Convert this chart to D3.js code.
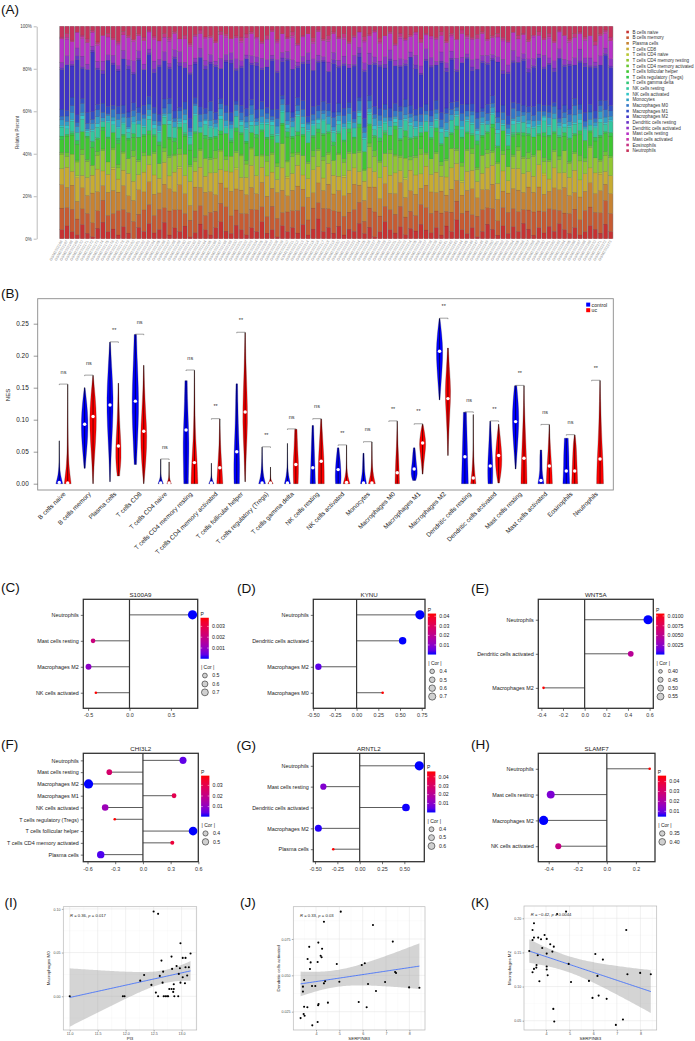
<!DOCTYPE html>
<html>
<head>
<meta charset="utf-8">
<script src="https://d3js.org/d3.v7.min.js"></script>
<style>
body{margin:0;background:#fff;}
svg{display:block;font-family:"Liberation Sans",Arial,sans-serif;}
</style>
</head>
<body>
<div id="fig"></div>
<script>
// ---------- data ----------
var cellTypes = ["B cells naive","B cells memory","Plasma cells","T cells CD8","T cells CD4 naive",
  "T cells CD4 memory resting","T cells CD4 memory activated","T cells follicular helper",
  "T cells regulatory (Tregs)","T cells gamma delta","NK cells resting","NK cells activated",
  "Monocytes","Macrophages M0","Macrophages M1","Macrophages M2","Dendritic cells resting",
  "Dendritic cells activated","Mast cells resting","Mast cells activated","Eosinophils","Neutrophils"];
var cellColors = ["#c73232","#c75b32","#c78332","#c7ac32","#b9c732","#91c732","#68c732","#3fc732",
  "#32c74d","#32c776","#32c79e","#32c7c7","#329ec7","#3276c7","#324dc7","#3f32c7","#6832c7",
  "#9132c7","#b932c7","#c732ac","#c73283","#c7325b"];

// sample names on the x axis of (A)
var sampleIds = d3.range(108).map(function(i){ return "GSM" + (2332166 + i); });

// (A) CIBERSORT fractions, percent, one array per cell type (108 samples)
var bNaive = [5,7,4,2,8,3,1,6,9,4,5,2,7,3,0,6,4,8,3,5,9,2,6,4,7,1,3,8,5,2,6,10,4,3,7,5,
  2,6,4,9,3,5,1,7,4,6,3,8,2,5,11,4,6,3,7,2,5,4,8,3,6,1,4,9,5,3,7,2,6,4,8,5,
  3,6,2,7,4,10,5,3,6,1,4,8,5,2,7,3,6,4,9,5,2,6,3,7,4,8,5,3,6,2,4,7,5,3,8,4];
var bMemory = [12,10,13,8,9,11,7,10,12,9,8,13,10,11,9,7,12,10,9,11,8,13,10,12,7,9,11,10,8,12,9,11,13,10,8,9,
  11,10,12,8,9,13,10,7,11,9,12,10,8,11,9,13,10,12,8,10,9,12,11,7,10,13,9,8,11,10,12,9,10,8,11,13,
  10,9,12,8,11,10,9,13,7,10,12,9,11,8,10,12,9,11,8,10,13,9,11,10,12,7,9,11,10,8,12,10,9,11,13,10];
var plasma = [13,11,14,9,12,10,15,11,8,13,12,10,14,9,11,13,10,12,11,9,13,12,10,14,11,8,12,10,13,11,9,12,10,14,11,13,
  10,12,9,13,11,10,14,12,9,11,13,10,12,8,11,10,13,9,12,11,10,14,9,12,11,13,10,12,9,11,14,10,12,11,9,13,
  11,10,12,9,13,11,10,12,14,9,11,10,13,12,9,11,10,12,10,12,11,13,9,10,12,11,14,10,9,12,11,13,10,12,9,11];
var cd8 = [9,11,8,12,7,10,9,13,8,10,11,7,9,12,10,8,11,9,10,8,12,7,11,9,10,13,8,11,9,10,12,8,9,11,10,7,
  9,12,10,8,11,9,7,12,10,9,11,8,10,12,9,7,11,10,8,10,12,9,7,11,10,8,12,9,10,11,7,9,12,10,8,11,
  9,11,8,10,12,9,7,11,10,8,9,12,10,9,11,7,10,12,11,8,9,12,10,7,11,9,8,10,12,9,10,8,11,9,7,10];
var cd4Naive = [0,0,0,1,0,0,0,0,0,0,1,0,0,0,0,0,0,0,0,0,0,0,0,1,0,0,0,0,0,0,0,0,0,0,1,0,
  0,0,0,0,0,0,0,0,1,0,0,0,0,0,0,0,0,0,0,1,0,0,0,0,0,0,0,0,0,0,0,1,0,0,0,0,
  0,0,0,0,0,0,1,0,0,0,0,0,0,0,0,0,0,0,0,0,0,0,1,0,0,0,0,0,0,0,0,0,0,1,0,0];
var cd4MemResting = [8,6,10,7,12,9,5,8,11,7,9,6,10,8,13,7,9,5,11,8,6,10,9,7,12,8,5,9,10,7,8,11,6,9,8,12,
  7,9,11,6,8,10,7,13,8,9,6,11,8,7,9,10,5,8,12,7,9,8,10,6,11,8,9,7,12,9,8,10,6,9,11,7,
  8,10,6,9,11,7,8,12,9,6,10,8,7,11,9,8,6,10,9,7,11,8,6,10,9,7,12,8,9,10,7,11,8,6,9,10];
var cd4MemActivated = [1,2,0,1,3,1,0,2,1,0,1,2,1,0,3,1,2,0,1,0,2,1,1,3,0,1,2,1,0,1,4,1,2,0,1,1,
  2,1,0,1,3,1,2,0,1,2,1,0,1,3,1,2,1,0,1,2,1,0,1,1,2,3,1,0,2,1,1,0,2,1,3,1,
  0,1,2,1,0,1,2,1,3,1,0,2,1,1,2,0,1,2,1,3,1,0,2,1,1,2,0,1,1,3,2,1,0,1,2,1];
var tfh = [7,9,11,8,10,12,9,7,10,13,8,11,9,10,7,12,9,11,8,10,13,9,7,11,10,8,12,9,11,10,7,9,12,8,10,11,
  9,8,10,12,9,7,11,10,13,8,9,11,10,7,9,12,10,8,11,9,10,8,12,10,9,7,11,10,8,13,9,11,10,9,7,12,
  10,11,9,12,8,10,13,9,7,11,10,9,12,8,11,10,9,7,12,9,10,8,11,13,9,10,8,12,9,11,10,7,9,12,10,11];
var tregs = [2,1,1,2,0,1,3,1,2,1,0,2,1,1,2,0,1,2,1,2,0,1,2,1,1,3,1,0,2,1,1,2,0,1,2,1,
  1,0,2,1,1,2,0,1,3,1,2,1,0,1,2,1,1,2,0,1,2,1,2,0,1,1,2,1,0,2,1,3,1,1,2,0,
  1,2,1,0,1,2,1,1,0,2,1,1,2,1,0,2,1,1,2,1,0,1,2,1,1,0,2,1,1,2,0,1,2,1,1,2];
var gammaDelta = [0,0,1,0,0,0,0,0,0,0,0,1,0,0,0,0,0,0,0,0,0,0,0,0,1,0,0,0,0,0,0,0,0,1,0,0,
  0,0,0,0,0,1,0,0,0,0,0,0,0,0,0,0,0,0,1,0,0,0,0,0,0,0,0,1,0,0,0,0,0,0,0,0,
  0,0,0,0,0,0,0,0,1,0,0,0,0,0,0,0,1,0,0,0,0,0,0,0,0,1,0,0,0,0,0,0,0,0,0,0];
var nkResting = [5,3,6,4,7,2,5,6,3,8,4,5,6,3,5,7,4,6,3,5,4,7,6,2,5,4,8,3,6,5,4,7,3,5,6,4,
  6,4,5,3,7,5,4,6,2,5,8,4,6,5,3,7,4,5,4,6,3,5,4,7,5,3,6,4,5,2,6,5,7,4,3,6,
  5,4,6,3,7,5,4,6,5,3,6,4,5,7,3,6,4,5,6,3,5,4,6,5,7,4,3,6,5,4,6,3,5,7,4,6];
var nkActivated = [1,2,1,0,2,1,1,2,0,1,2,1,1,2,1,0,1,2,2,1,1,2,0,1,2,1,1,0,2,1,1,2,1,1,0,2,
  1,2,0,1,1,2,1,1,2,0,1,2,1,1,2,1,0,1,2,1,1,0,2,1,1,2,1,1,0,2,1,1,2,1,1,0,
  1,1,2,1,0,1,2,1,1,2,1,0,1,2,1,1,2,1,0,2,1,1,2,1,0,1,2,1,1,2,1,0,1,2,1,1];
var monocytes = [3,2,4,3,2,1,3,4,2,3,2,4,3,1,3,2,4,3,2,3,1,4,3,2,3,2,4,3,1,3,2,4,3,2,3,1,
  3,4,2,3,2,1,4,3,2,3,2,4,3,2,1,3,4,2,3,2,4,3,1,3,2,4,3,2,3,1,4,2,3,3,2,4,
  2,3,1,4,3,2,3,2,4,1,3,2,3,4,2,3,1,3,4,2,3,2,1,4,3,2,3,2,4,3,1,3,2,4,3,2];
var m0 = [2,3,4,2,5,3,2,4,3,1,4,3,2,5,3,4,2,3,4,2,3,5,2,4,3,2,1,4,3,5,2,3,4,2,3,4,
  3,5,2,4,3,2,4,3,5,2,3,4,1,3,4,2,3,5,2,4,3,2,5,3,4,2,3,4,2,3,5,4,2,3,4,2,
  3,2,4,5,3,2,4,3,2,5,3,4,2,3,4,2,5,3,2,4,3,5,2,3,4,2,3,4,5,2,3,4,2,3,4,3];
var m1 = [4,3,5,4,3,6,4,3,5,4,2,4,5,3,4,3,5,4,3,4,5,3,4,2,4,5,3,4,3,5,4,3,4,5,2,4,
  4,3,5,4,3,4,5,2,4,3,4,5,3,4,3,5,4,3,5,4,3,4,2,5,3,4,4,3,5,4,3,4,5,3,4,4,
  3,5,4,3,4,3,5,4,4,3,2,5,4,3,4,5,3,4,4,3,5,4,3,4,2,5,4,3,4,3,5,4,4,3,5,3];
var m2 = [22,25,18,28,17,24,30,20,16,26,21,19,27,23,15,25,20,22,18,26,21,16,29,23,19,24,17,27,22,20,25,18,23,28,16,21,
  26,19,24,17,22,27,20,18,25,23,16,21,28,19,24,22,17,26,20,23,18,25,21,27,16,22,24,19,26,20,23,17,28,21,18,25,
  22,19,27,20,24,16,23,26,18,21,25,22,19,28,17,24,20,23,26,18,22,25,19,23,17,27,21,24,18,22,26,20,23,19,25,21];
var dcResting = [1,0,1,2,1,0,1,1,2,0,1,1,0,2,1,1,0,1,2,1,0,1,1,2,0,1,1,0,2,1,1,0,1,2,1,1,
  0,1,2,1,0,1,1,2,1,0,1,1,2,0,1,1,0,2,1,1,0,1,2,1,0,1,1,2,1,0,1,1,0,2,1,1,
  1,0,1,2,1,1,0,1,2,0,1,1,1,0,2,1,1,0,1,2,1,0,1,1,2,0,1,1,0,1,2,1,1,0,1,1];
var dcActivated = [3,5,2,4,6,3,2,4,5,3,4,2,5,3,6,4,3,2,4,3,5,2,4,6,3,4,2,5,3,4,2,6,3,4,5,3,
  2,4,3,5,4,2,6,3,4,5,2,3,4,6,3,2,5,4,3,4,2,5,3,4,6,3,2,4,5,3,4,2,3,5,4,6,
  4,2,5,3,4,6,3,2,4,5,3,4,2,3,6,4,5,3,3,5,4,2,6,3,4,5,3,2,4,6,3,4,2,5,3,4];
var mastResting = [13,9,11,8,10,12,7,9,14,10,8,11,9,12,10,8,13,9,11,10,8,12,9,7,13,10,11,8,12,9,10,14,9,8,11,10,
  9,12,10,8,11,13,9,10,7,12,9,11,10,8,13,9,11,10,12,9,11,10,8,12,9,13,10,11,9,8,12,10,9,11,13,8,
  10,12,9,11,8,10,13,9,11,10,12,8,9,11,10,13,9,10,11,9,12,10,8,11,10,9,13,10,11,8,10,12,9,11,8,10];
var mastActivated = [0,1,0,0,1,0,0,1,0,0,0,1,0,0,1,0,0,0,1,0,0,1,0,0,0,1,0,0,1,0,0,0,1,0,0,1,
  0,0,1,0,0,0,1,0,0,1,0,0,0,1,0,0,1,0,0,1,0,0,0,1,0,0,1,0,0,0,1,0,0,1,0,0,
  1,0,0,0,1,0,0,1,0,0,0,1,0,0,1,0,0,0,0,0,1,0,0,1,0,0,0,1,0,0,1,0,0,0,1,0];
var eosinophils = [1,2,1,0,1,2,1,1,0,2,1,1,2,1,0,1,2,1,1,0,2,1,1,0,2,1,1,2,0,1,1,2,1,0,1,2,
  2,1,0,1,2,1,1,0,1,2,1,1,0,2,1,1,2,1,1,2,1,1,0,2,1,1,2,0,1,1,2,1,1,0,2,1,
  0,1,2,1,1,0,2,1,1,2,1,0,1,2,1,1,0,2,1,1,0,2,1,2,1,1,0,1,2,1,1,0,2,1,1,2];
var neutrophils = [6,4,8,3,5,7,2,9,5,4,6,8,3,5,7,4,6,2,5,8,4,6,3,7,5,9,4,2,6,5,8,3,4,7,5,6,
  4,3,6,8,5,2,7,4,6,3,9,5,4,6,2,7,5,3,6,4,8,5,3,6,4,2,7,5,3,9,4,6,5,3,7,4,
  5,6,3,8,4,7,2,5,6,4,3,7,5,4,6,8,3,5,4,7,5,3,6,4,8,2,5,7,4,3,6,5,8,4,2,6];
var fractions = [bNaive,bMemory,plasma,cd8,cd4Naive,cd4MemResting,cd4MemActivated,tfh,tregs,gammaDelta,
  nkResting,nkActivated,monocytes,m0,m1,m2,dcResting,dcActivated,mastResting,mastActivated,eosinophils,neutrophils];

// (B) violin summaries: min, max, median, relative density at 6 levels from min to max
var ctrlMin = [0,0.024,0.003,0.03,0,0,0,0,0,0,0,0,0,null,0.005,0.131,0,0,0.023,0,0,null];
var ctrlMax = [0.067,0.150,0.221,0.233,0.038,0.161,0.032,0.156,0.057,0.063,0.091,0.056,0.0475,null,0.056,0.258,0.1116,0.0975,0.153,0.0527,0.071,null];
var ctrlMed = [0.002,0.093,0.123,0.129,0.001,0.084,0.001,0.050,0.001,0.001,0.025,0.022,0.001,null,0.023,0.207,0.042,0.0277,0.097,0.005,0.0198,null];
var ctrlShape = [[0.9,0.3,0.1,0.05,0.03,0.02],[0.15,0.5,0.85,0.9,0.6,0.1],[0.05,0.3,0.7,0.9,0.5,0.1],
  [0.3,0.6,0.9,0.8,0.5,0.3],[0.7,0.2,0.06,0.04,0.03,0.02],[0.6,0.7,0.8,0.6,0.4,0.3],
  [0.7,0.2,0.07,0.04,0.03,0.02],[0.7,0.8,0.6,0.4,0.3,0.2],[0.9,0.4,0.2,0.1,0.05,0.03],
  [0.8,0.3,0.1,0.05,0.03,0.02],[0.7,0.6,0.5,0.4,0.3,0.2],[0.7,0.8,0.7,0.6,0.4,0.2],
  [0.8,0.5,0.3,0.25,0.2,0.15],null,[0.4,0.9,0.7,0.5,0.4,0.2],[0.1,0.4,0.7,0.9,0.6,0.1],
  [0.9,0.8,0.7,0.6,0.5,0.4],[0.6,0.7,0.6,0.4,0.25,0.1],[0.1,0.4,0.7,0.9,0.7,0.3],
  [0.8,0.5,0.3,0.3,0.3,0.2],[0.9,0.8,0.7,0.7,0.6,0.5],null];
var ucMin = [0,0,0.012,0,0,0,0,0.003,0,0,0,0,0,0,0.015,0.044,0,0.001,0,0,0,0];
var ucMax = [0.155,0.169,0.157,0.185,0.034,0.177,0.101,0.236,0.026,0.085,0.101,0.060,0.065,0.0975,0.093,0.212,0.108,0.093,0.153,0.092,0.076,0.161];
var ucMed = [0.001,0.105,0.059,0.082,0.001,0.033,0.025,0.112,0.001,0.030,0.035,0.002,0.001,0.017,0.0636,0.133,0.009,0.044,0.0397,0.0277,0.0198,0.0386];
var ucShape = [[0.9,0.25,0.12,0.08,0.04,0.02],[0.05,0.3,0.7,0.95,0.6,0.05],[0.3,0.8,0.6,0.3,0.15,0.05],
  [0.05,0.6,0.9,0.5,0.2,0.05],[0.6,0.15,0.05,0.03,0.02,0.02],[0.9,0.7,0.3,0.15,0.08,0.03],
  [0.8,0.6,0.4,0.2,0.1,0.03],[0.05,0.3,0.7,0.5,0.2,0.05],[0.7,0.15,0.05,0.03,0.02,0.02],
  [0.6,0.7,0.7,0.5,0.4,0.3],[0.8,0.8,0.7,0.5,0.3,0.1],[0.9,0.3,0.1,0.05,0.03,0.02],
  [0.9,0.4,0.15,0.08,0.05,0.02],[0.6,0.5,0.4,0.2,0.1,0.02],[0.1,0.3,0.6,0.9,0.6,0.1],
  [0.05,0.2,0.5,0.8,0.4,0.1],[0.7,0.3,0.1,0.05,0.03,0.02],[0.2,0.7,0.9,0.7,0.4,0.05],
  [0.8,0.7,0.5,0.3,0.1,0.03],[0.8,0.7,0.5,0.3,0.15,0.03],[0.8,0.7,0.6,0.5,0.4,0.1],
  [0.9,0.8,0.5,0.3,0.15,0.03]];
var sigLabels = ["ns","ns","**","ns","ns","ns","**","**","**","ns","ns","**","ns","**","**","**","ns","**","**","ns","ns","**"];
var groupNames = ["control","uc"];

// (C)-(H) correlation lollipops
var lolliPanels = [
  {tag:"(C)", gene:"S100A9", cats:["Neutrophils","Mast cells resting","Macrophages M2","NK cells activated"],
   cor:[0.761,-0.44,-0.495,-0.406], p:[0.00001,0.0021,0.0009,0.0038], pTicks:[0.001,0.002,0.003], pFmt:".3f",
   corBreaks:[0.5,0.6,0.7], cFmt:".1f", xTicks:[-0.5,0,0.5], xFmt:".1f"},
  {tag:"(D)", gene:"KYNU", cats:["Neutrophils","Dendritic cells activated","Macrophages M2","Macrophages M0"],
   cor:[0.729,0.53,-0.44,0.30], p:[0.00001,0.00002,0.004,0.0428], pTicks:[0.01,0.02,0.03,0.04], pFmt:".2f",
   corBreaks:[0.4,0.5,0.6,0.7], cFmt:".1f", xTicks:[-0.5,-0.25,0,0.25,0.5,0.75], xFmt:".2f"},
  {tag:"(E)", gene:"WNT5A", cats:["Neutrophils","Dendritic cells activated","Macrophages M2"],
   cor:[0.586,0.426,-0.38], p:[0.00018,0.0048,0.0106], pTicks:[0.0025,0.005,0.0075,0.01], pFmt:".4f",
   corBreaks:[0.40,0.45,0.50,0.55], cFmt:".2f", xTicks:[-0.4,-0.2,0,0.2,0.4,0.6], xFmt:".1f"},
  {tag:"(F)", gene:"CHI3L2", cats:["Neutrophils","Mast cells resting","Macrophages M2","Macrophages M1","NK cells activated",
     "T cells regulatory (Tregs)","T cells follicular helper","T cells CD4 memory activated","Plasma cells"],
   cor:[0.434,-0.364,-0.589,0.337,-0.409,-0.305,0.543,0.318,-0.457], p:[0.0043,0.025,0.0005,0.0295,0.012,0.0392,0.0005,0.033,0.003],
   pTicks:[0.01,0.02,0.03], pFmt:".2f", corBreaks:[0.4,0.5], cFmt:".1f", xTicks:[-0.6,-0.3,0,0.3,0.6], xFmt:".1f"},
  {tag:"(G)", gene:"ARNTL2", cats:["Neutrophils","Mast cells resting","Dendritic cells activated","Macrophages M2","Plasma cells"],
   cor:[0.667,-0.407,0.518,-0.463,-0.296], p:[0.00001,0.009,0.0002,0.0007,0.046], pTicks:[0.01,0.02,0.03,0.04], pFmt:".2f",
   corBreaks:[0.4,0.5,0.6], cFmt:".1f", xTicks:[-0.5,-0.25,0,0.25,0.5], xFmt:".2f"},
  {tag:"(H)", gene:"SLAMF7", cats:["Neutrophils","Mast cells resting","Macrophages M2","NK cells activated"],
   cor:[0.295,-0.386,-0.435,-0.334], p:[0.046,0.012,0.0046,0.026], pTicks:[0.01,0.02,0.03,0.04], pFmt:".2f",
   corBreaks:[0.35,0.40], cFmt:".2f", xTicks:[-0.4,-0.2,0,0.2], xFmt:".1f"}
];

// (I)-(K) scatter data
var pi3 = [12.50,12.58,12.98,12.82,12.64,13.16,13.07,13.02,12.91,12.83,12.67,12.97,13.07,13.13,12.33,12.26,12.61,12.95,13.10,13.02,
  12.66,12.46,12.98,12.86,13.06,12.82,12.86,12.78,12.54,12.58,12.68,12.71,12.74,12.76,12.87,12.94,11.95,11.98,11.00,12.85];
var macM0 = [0.0970,0.0943,0.0607,0.0454,0.0408,0.0489,0.0439,0.0439,0.0347,0.0313,0.0282,0.0321,0.0332,0.0332,0.0244,0.0179,0.0233,0.0256,0.0237,0.0218,
  0.0156,0.0130,0.0156,0.0137,0.0149,0.0084,0.0084,0.0084,0.0042,0,0,0,0,0,0,0,0,0,0,0.005];
var serpinJ = [5.06,4.34,4.10,3.71,4.26,4.20,4.24,3.64,3.77,4.07,3.74,4.89,3.49,4.39,4.34,3.44,3.83,3.97,5.00,3.44,4.11,4.09,
  4.51,3.49,3.63,3.47,3.51,3.34,4.07,3.84,6.44,7.29,5.96,6.09,7.39,7.43,6.23,6.96,6.57,7.99,8.43,5.83,6.17];
var dcAct = [0.0938,0.0869,0.0725,0.0696,0.0683,0.0635,0.0624,0.0612,0.0589,0.0592,0.0544,0.0578,0.0468,0.0459,0.0445,0.0422,0.0427,0.0427,0.0456,0.0388,0.0303,0.0294,
  0.0312,0.0284,0.0280,0.0234,0.0222,0.0206,0.0179,0.0156,0.0846,0.0732,0.0571,0.0583,0.0523,0.0516,0.0440,0.0454,0.0392,0.0417,0.0415,0.0317,0.0280];
var serpinK = [4.85,4.47,3.49,3.43,3.49,3.43,3.67,3.79,3.94,4.03,4.18,4.33,3.84,4.27,3.29,4.03,3.65,6.09,7.40,6.41,4.96,3.60,4.03,3.59,3.49,4.03,3.43,4.07,
  7.45,7.99,8.44,6.18,3.72,5.06,5.82,5.97,6.23,6.57,4.31,4.35,6.96,7.26];
var macM2 = [0.2098,0.2063,0.1927,0.1829,0.1717,0.1683,0.1717,0.1693,0.1756,0.1698,0.1620,0.1585,0.1566,0.1512,0.1522,0.1483,0.1459,0.1478,0.1829,0.1395,0.1332,0.1317,0.1293,0.1278,
  0.1259,0.1249,0.1210,0.1166,0.1180,0.1200,0.1180,0.1156,0.1078,0.1068,0.1083,0.0834,0.0868,0.0820,0.0673,0.0488,0.0439,0.0517];

// ---------- drawing ----------
var svg = d3.select("#fig").append("svg").attr("width",695).attr("height",1041);
svg.append("rect").attr("width",695).attr("height",1041).attr("fill","#fff");
var defs = svg.append("defs");

function panelLabel(txt, x, y){
  svg.append("text").attr("x",x).attr("y",y).attr("font-size",13.5).attr("fill","#111").text(txt);
}
function noMinus(f){ return function(v){ return f(v).replace("\u2212","-"); }; }

// ===== (A) stacked bars =====
panelLabel("(A)", 1, 14);
var aTop = 26.3, aBot = 238.7, aLeft = 59.3, aRight = 613.3;
var yA = d3.scaleLinear().domain([0,1]).range([aBot,aTop]);
var xA = d3.scaleBand().domain(sampleIds).range([aLeft,aRight]).paddingInner(0.2).paddingOuter(0.1);
var gA = svg.append("g");
gA.append("rect").attr("x",aLeft).attr("y",aTop).attr("width",aRight-aLeft).attr("height",aBot-aTop).attr("fill","#a5a5a5");

var table = sampleIds.map(function(s,j){
  var row = {id:s};
  cellTypes.forEach(function(c,i){ row[c] = fractions[i][j]; });
  return row;
});
var series = d3.stack().keys(cellTypes).offset(d3.stackOffsetExpand)(table);
gA.selectAll("g.layer").data(series).enter().append("g").attr("class","layer")
  .attr("fill",function(d,i){ return cellColors[i]; })
  .selectAll("rect").data(function(d){ return d; }).enter().append("rect")
  .attr("x",function(d){ return xA(d.data.id); })
  .attr("width",xA.bandwidth())
  .attr("y",function(d){ return yA(d[1]); })
  .attr("height",function(d){ return yA(d[0]) - yA(d[1]); })
  .attr("stroke",function(d){ return d[1]-d[0] > 0 ? "rgba(0,0,0,0.22)" : "none"; })
  .attr("stroke-width",0.3);

var axA = gA.append("g").attr("transform","translate(36.7,0)")
  .call(d3.axisLeft(yA).tickValues([0,0.2,0.4,0.6,0.8,1]).tickFormat(d3.format(".0%")).tickSize(3).tickSizeOuter(0).tickPadding(2));
axA.selectAll("path,line").attr("stroke","#777").attr("stroke-width",0.5);
axA.selectAll("text").attr("font-size",4.5).attr("fill","#444").attr("font-family","inherit");
gA.append("text").attr("transform","translate(18.8,132.5) rotate(-90)").attr("text-anchor","middle")
  .attr("font-size",4.5).attr("fill","#444").text("Relative Percent");

gA.selectAll("text.sid").data(sampleIds).enter().append("text").attr("class","sid")
  .attr("transform",function(d){ return "translate(" + (xA(d) + xA.bandwidth()/2 + 1) + "," + (aBot + 2.5) + ") rotate(-60)"; })
  .attr("text-anchor","end").attr("font-size",3.7).attr("fill","#8d8d8d").text(function(d){ return d; });

var legA = gA.selectAll("g.leg").data(cellTypes).enter().append("g")
  .attr("transform",function(d,i){ return "translate(626.3," + (32 + i*5.65) + ")"; });
legA.append("rect").attr("x",0).attr("y",-1.3).attr("width",2.6).attr("height",2.6)
  .attr("fill",function(d,i){ return cellColors[i]; });
legA.append("text").attr("x",6.2).attr("y",1.6).attr("font-size",4.6).attr("fill","#333").text(function(d){ return d; });

// ===== (B) violins =====
panelLabel("(B)", 1, 298);
var gB = svg.append("g");
var bBox = {l:37.7, t:298.7, r:613.3, b:490};
var yB = d3.scaleLinear().domain([0,0.25]).range([483.7,323.7]);
var xB = d3.scalePoint().domain(cellTypes).range([63.5,595.85]);
var hw = 3.8, off = 4.2;
var groupColors = ["#0000ff","#ff0000"];

function violin(cx, mn, mx, med, shape, color){
  if (shape === null) return;
  var pts = shape.map(function(w,k){ return {v: mn + k*(mx-mn)/(shape.length-1), w: w*hw}; });
  var area = d3.area().y(function(d){ return yB(d.v); })
    .x0(function(d){ return cx - d.w; }).x1(function(d){ return cx + d.w; }).curve(d3.curveBasis);
  gB.append("path").attr("d",area(pts)).attr("fill",color).attr("stroke","#111").attr("stroke-width",0.25);
  gB.append("line").attr("x1",cx).attr("x2",cx).attr("y1",yB(mn)).attr("y2",yB(mx))
    .attr("stroke","#000").attr("stroke-width",0.6);
  gB.append("circle").attr("cx",cx).attr("cy",yB(med)).attr("r",1.7).attr("fill","#fff");
}
cellTypes.forEach(function(c,i){
  var cx = xB(c);
  violin(cx-off, ctrlMin[i], ctrlMax[i], ctrlMed[i], ctrlShape[i], groupColors[0]);
  violin(cx+off, ucMin[i], ucMax[i], ucMed[i], ucShape[i], groupColors[1]);
  var top = d3.max([ctrlMax[i] || 0, ucMax[i]]);
  var by = yB(top) - 0.4;
  gB.append("path").attr("d","M"+(cx-off)+","+(by+1)+"V"+by+"H"+(cx+off)+"V"+(by+1))
    .attr("fill","none").attr("stroke","#444").attr("stroke-width",0.5);
  gB.append("text").attr("x",cx).attr("y",by-10.3).attr("text-anchor","middle")
    .attr("font-size",5.5).attr("fill","#333").text(sigLabels[i]);
});
gB.append("rect").attr("x",bBox.l).attr("y",bBox.t).attr("width",bBox.r-bBox.l).attr("height",bBox.b-bBox.t)
  .attr("fill","none").attr("stroke","#8a8a8a").attr("stroke-width",0.9);
var axB = gB.append("g").attr("transform","translate(" + bBox.l + ",0)")
  .call(d3.axisLeft(yB).tickValues([0,0.05,0.1,0.15,0.2,0.25]).tickFormat(d3.format(".2f")).tickSize(4).tickSizeOuter(0).tickPadding(5));
axB.select(".domain").remove();
axB.selectAll("line").attr("stroke","#555").attr("stroke-width",0.6);
axB.selectAll("text").attr("font-size",6.4).attr("fill","#222").attr("font-family","inherit");
gB.append("text").attr("transform","translate(10.3,395) rotate(-90)").attr("text-anchor","middle")
  .attr("font-size",6).attr("fill","#222").text("NES");
gB.selectAll("text.cat").data(cellTypes).enter().append("text").attr("class","cat")
  .attr("transform",function(d){ return "translate(" + (xB(d)+2.5) + "," + (bBox.b+4.5) + ") rotate(-45)"; })
  .attr("text-anchor","end").attr("font-size",6.4).attr("fill","#222").text(function(d){ return d; });
groupNames.forEach(function(g,k){
  gB.append("rect").attr("x",586.2).attr("y",302.6 + k*5.6).attr("width",4).attr("height",4).attr("fill",groupColors[k]);
  gB.append("text").attr("x",591.6).attr("y",306.6 + k*5.6).attr("font-size",5.2).attr("fill","#222").text(g);
});

// ===== (C)-(H) lollipops =====
var lolliBoxes = [[83.3,599.3,197.7,708.3],[313.3,599.3,425,708.3],[538.3,599.3,653.3,708.3],
                  [83.3,753.3,198.3,861.7],[313.3,753.3,424.3,861.7],[538.3,753.3,655,861.7]];
var lolliTagPos = [[1,592],[237,592.7],[471,593],[1,749],[236.5,750],[471,749.3]];

function lollipop(cfg, b, tagPos, idx){
  panelLabel(cfg.tag, tagPos[0], tagPos[1]);
  var g = svg.append("g");
  var lo = Math.min(0, d3.min(cfg.cor)), hi = Math.max(0, d3.max(cfg.cor)), pad = (hi-lo)*0.05;
  var x = d3.scaleLinear().domain([lo-pad, hi+pad]).range([b[0], b[2]]);
  var y = d3.scalePoint().domain(cfg.cats).range([b[1], b[3]]).padding(0.6);
  var absC = cfg.cor.map(Math.abs), sMin = d3.min(absC), sMax = d3.max(absC);
  var rad = function(v){ return 1.3 + 3.3*Math.sqrt(Math.max(0,(v-sMin))/(sMax-sMin)); };
  var pMin = d3.min(cfg.p), pMax = d3.max(cfg.p);
  var col = d3.scaleLinear().domain([pMin,pMax]).range(["#0000ff","#ff0000"]).interpolate(d3.interpolateLab);

  g.append("text").attr("x",(b[0]+b[2])/2).attr("y",b[1]-2.6).attr("text-anchor","middle")
    .attr("font-size",6.2).attr("fill","#222").text(cfg.gene);
  g.selectAll("line.seg").data(cfg.cats).enter().append("line")
    .attr("x1",x(0)).attr("x2",function(d,i){ return x(cfg.cor[i]); })
    .attr("y1",function(d){ return y(d); }).attr("y2",function(d){ return y(d); })
    .attr("stroke","#4a4a4a").attr("stroke-width",0.9);
  g.append("line").attr("x1",x(0)).attr("x2",x(0)).attr("y1",b[1]).attr("y2",b[3])
    .attr("stroke","#333").attr("stroke-width",1.2);
  g.append("rect").attr("x",b[0]).attr("y",b[1]).attr("width",b[2]-b[0]).attr("height",b[3]-b[1])
    .attr("fill","none").attr("stroke","#333").attr("stroke-width",1.3);
  g.selectAll("circle.pt").data(cfg.cats).enter().append("circle")
    .attr("cx",function(d,i){ return x(cfg.cor[i]); }).attr("cy",function(d){ return y(d); })
    .attr("r",function(d,i){ return rad(absC[i]); })
    .attr("fill",function(d,i){ return col(cfg.p[i]); });

  var ax = g.append("g").attr("transform","translate(0," + b[3] + ")")
    .call(d3.axisBottom(x).tickValues(cfg.xTicks).tickFormat(noMinus(d3.format(cfg.xFmt))).tickSize(2.5).tickSizeOuter(0).tickPadding(2.5));
  ax.select(".domain").remove();
  ax.selectAll("line").attr("stroke","#333").attr("stroke-width",0.7);
  ax.selectAll("text").attr("font-size",5.4).attr("fill","#333").attr("font-family","inherit");
  var ay = g.append("g").attr("transform","translate(" + b[0] + ",0)")
    .call(d3.axisLeft(y).tickSize(2.5).tickSizeOuter(0).tickPadding(2));
  ay.select(".domain").remove();
  ay.selectAll("line").attr("stroke","#333").attr("stroke-width",0.7);
  ay.selectAll("text").attr("font-size",5.4).attr("fill","#222").attr("font-family","inherit");

  // legends
  var lgX = b[2] + 2.8, cbW = 8.3, cbH = 41, n = cfg.corBreaks.length;
  var H = 67.3 + (n-1)*8.4;
  var cbTop = (b[1]+b[3])/2 - H/2 + 6;
  var gid = "grad" + idx;
  var grad = defs.append("linearGradient").attr("id",gid).attr("x1",0).attr("y1",1).attr("x2",0).attr("y2",0);
  d3.range(11).forEach(function(k){
    grad.append("stop").attr("offset",k/10).attr("stop-color",col(pMin + k/10*(pMax-pMin)));
  });
  g.append("text").attr("x",lgX).attr("y",cbTop-2).attr("font-size",5).attr("fill","#222").text("P");
  g.append("rect").attr("x",lgX).attr("y",cbTop).attr("width",cbW).attr("height",cbH).attr("fill","url(#" + gid + ")");
  var pf = d3.format(cfg.pFmt);
  cfg.pTicks.forEach(function(t){
    var yy = cbTop + cbH*(1 - (t-pMin)/(pMax-pMin));
    g.append("line").attr("x1",lgX).attr("x2",lgX+1.7).attr("y1",yy).attr("y2",yy).attr("stroke","#fff").attr("stroke-width",0.5);
    g.append("line").attr("x1",lgX+cbW-1.7).attr("x2",lgX+cbW).attr("y1",yy).attr("y2",yy).attr("stroke","#fff").attr("stroke-width",0.5);
    g.append("text").attr("x",lgX+cbW+3.2).attr("y",yy+1.8).attr("font-size",5.2).attr("fill","#222").text(pf(t));
  });
  g.append("text").attr("x",lgX+0.4).attr("y",cbTop+cbH+10.3).attr("font-size",5).attr("fill","#222").text("| Cor |");
  var cf = d3.format(cfg.cFmt);
  cfg.corBreaks.forEach(function(v,k){
    var cy = cbTop + cbH + 16.8 + k*8.4;
    g.append("circle").attr("cx",lgX+4.4).attr("cy",cy).attr("r",Math.min(3.6, rad(v)*0.8))
      .attr("fill","#d0d0d0").attr("stroke","#222").attr("stroke-width",0.6);
    g.append("text").attr("x",lgX+11.8).attr("y",cy+1.8).attr("font-size",5.2).attr("fill","#222").text(cf(v));
  });
}
lolliPanels.forEach(function(cfg,i){ lollipop(cfg, lolliBoxes[i], lolliTagPos[i], i); });

// ===== (I)-(K) scatter + lm =====
var scatterPanels = [
  {tag:"(I)", tagX:4.5, box:[63.3,906.7,196.7,1030], xs:pi3, ys:macM0, xDomain:[10.885,13.27], yDomain:[-0.0386,0.1025],
   xTicks:[11,11.5,12,12.5,13], xFmt:".1f", yTicks:[0,0.05,0.1], yFmt:".2f", xLab:"PI3", yLab:"Macrophages M0",
   r:"0.36", pv:"0.017"},
  {tag:"(J)", tagX:240, box:[293.3,906.7,425,1030], xs:serpinJ, ys:dcAct, xDomain:[3.027,8.67], yDomain:[0.0124,0.0972],
   xTicks:[4,5,6,7,8], xFmt:"d", yTicks:[0.025,0.05,0.075], yFmt:".3f", xLab:"SERPINB3", yLab:"Dendritic cells activated",
   r:"0.33", pv:"0.03"},
  {tag:"(K)", tagX:471, box:[524,906,656.7,1030], xs:serpinK, ys:macM2, xDomain:[3.068,8.69], yDomain:[0.0364,0.218],
   xTicks:[4,5,6,7,8], xFmt:"d", yTicks:[0.05,0.1,0.15,0.2], yFmt:".2f", xLab:"SERPINB3", yLab:"Macrophages M2",
   r:"\u22120.42", pv:"0.0044"}
];

function minorOf(ticks, dom){
  var step = ticks[1]-ticks[0], out = [];
  for (var k=-1; k<ticks.length; k++){
    var m = ticks[0] + (k+0.5)*step;
    if (m > dom[0] && m < dom[1]) out.push(m);
  }
  return out;
}

function scatter(cfg, idx){
  panelLabel(cfg.tag, cfg.tagX, 907);
  var b = cfg.box, g = svg.append("g");
  var x = d3.scaleLinear().domain(cfg.xDomain).range([b[0],b[2]]);
  var y = d3.scaleLinear().domain(cfg.yDomain).range([b[3],b[1]]);
  var cid = "clip" + idx;
  defs.append("clipPath").attr("id",cid).append("rect").attr("x",b[0]).attr("y",b[1]).attr("width",b[2]-b[0]).attr("height",b[3]-b[1]);
  var inner = g.append("g").attr("clip-path","url(#" + cid + ")");
  minorOf(cfg.xTicks, cfg.xDomain).forEach(function(v){
    inner.append("line").attr("x1",x(v)).attr("x2",x(v)).attr("y1",b[1]).attr("y2",b[3]).attr("stroke","#f0f0f0").attr("stroke-width",0.3);
  });
  minorOf(cfg.yTicks, cfg.yDomain).forEach(function(v){
    inner.append("line").attr("y1",y(v)).attr("y2",y(v)).attr("x1",b[0]).attr("x2",b[2]).attr("stroke","#f0f0f0").attr("stroke-width",0.3);
  });
  cfg.xTicks.forEach(function(v){
    inner.append("line").attr("x1",x(v)).attr("x2",x(v)).attr("y1",b[1]).attr("y2",b[3]).attr("stroke","#e3e3e3").attr("stroke-width",0.5);
  });
  cfg.yTicks.forEach(function(v){
    inner.append("line").attr("y1",y(v)).attr("y2",y(v)).attr("x1",b[0]).attr("x2",b[2]).attr("stroke","#e3e3e3").attr("stroke-width",0.5);
  });

  // linear fit with 95% band
  var xs = cfg.xs, ys = cfg.ys, n = xs.length;
  var mx = d3.mean(xs), my = d3.mean(ys);
  var sxx = d3.sum(xs, function(v){ return (v-mx)*(v-mx); });
  var sxy = d3.sum(xs.map(function(v,i){ return (v-mx)*(ys[i]-my); }));
  var slope = sxy/sxx, icpt = my - slope*mx;
  var sse = d3.sum(xs.map(function(v,i){ var e = ys[i] - (icpt + slope*v); return e*e; }));
  var s = Math.sqrt(sse/(n-2)), tq = 2.02;
  var x0 = d3.min(xs), x1 = d3.max(xs);
  var fit = d3.range(81).map(function(k){
    var xv = x0 + k*(x1-x0)/80, yv = icpt + slope*xv;
    var se = s*Math.sqrt(1/n + (xv-mx)*(xv-mx)/sxx);
    return {x:xv, y:yv, lo:yv - tq*se, hi:yv + tq*se};
  });
  inner.append("path").attr("d", d3.area().x(function(d){ return x(d.x); }).y0(function(d){ return y(d.lo); }).y1(function(d){ return y(d.hi); })(fit))
    .attr("fill","#999").attr("fill-opacity",0.42);
  inner.append("path").attr("d", d3.line().x(function(d){ return x(d.x); }).y(function(d){ return y(d.y); })(fit))
    .attr("fill","none").attr("stroke","#3366ff").attr("stroke-width",0.8);
  inner.selectAll("circle").data(xs).enter().append("circle")
    .attr("cx",function(d){ return x(d); }).attr("cy",function(d,i){ return y(ys[i]); }).attr("r",1.05).attr("fill","#000");

  g.append("rect").attr("x",b[0]).attr("y",b[1]).attr("width",b[2]-b[0]).attr("height",b[3]-b[1])
    .attr("fill","none").attr("stroke","#b8b8b8").attr("stroke-width",0.7);

  var ax = g.append("g").attr("transform","translate(0," + b[3] + ")")
    .call(d3.axisBottom(x).tickValues(cfg.xTicks).tickFormat(d3.format(cfg.xFmt)).tickSize(1.5).tickSizeOuter(0).tickPadding(1.2));
  ax.select(".domain").remove();
  ax.selectAll("line").attr("stroke","#333").attr("stroke-width",0.4);
  ax.selectAll("text").attr("font-size",3.6).attr("fill","#4d4d4d").attr("font-family","inherit");
  var ay = g.append("g").attr("transform","translate(" + b[0] + ",0)")
    .call(d3.axisLeft(y).tickValues(cfg.yTicks).tickFormat(d3.format(cfg.yFmt)).tickSize(1.5).tickSizeOuter(0).tickPadding(1.2));
  ay.select(".domain").remove();
  ay.selectAll("line").attr("stroke","#333").attr("stroke-width",0.4);
  ay.selectAll("text").attr("font-size",3.6).attr("fill","#4d4d4d").attr("font-family","inherit");

  g.append("text").attr("x",(b[0]+b[2])/2).attr("y",1040.2).attr("text-anchor","middle")
    .attr("font-size",4.4).attr("fill","#222").text(cfg.xLab);
  g.append("text").attr("transform","translate(" + (b[0]-13.2) + "," + ((b[1]+b[3])/2) + ") rotate(-90)")
    .attr("text-anchor","middle").attr("font-size",4.4).attr("fill","#222").text(cfg.yLab);

  var rt = g.append("text").attr("x",b[0]+6.7).attr("y",b[1]+10).attr("font-size",4.2).attr("fill","#222");
  rt.append("tspan").attr("font-style","italic").text("R");
  rt.append("tspan").text(" = " + cfg.r + ", ");
  rt.append("tspan").attr("font-style","italic").text("p");
  rt.append("tspan").text(" = " + cfg.pv);
}
scatterPanels.forEach(function(cfg,i){ scatter(cfg, i); });
</script>
</body>
</html>
